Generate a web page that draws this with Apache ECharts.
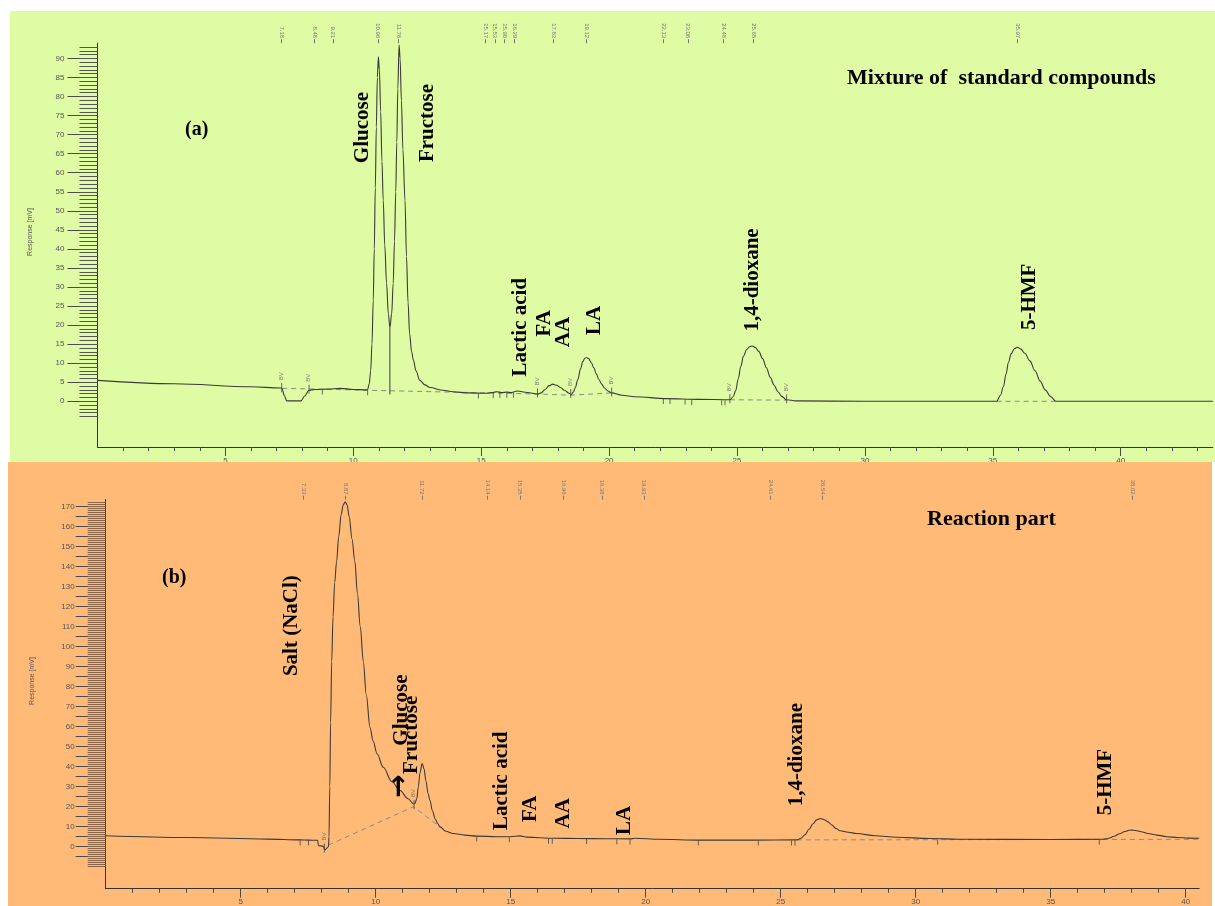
<!DOCTYPE html>
<html><head><meta charset="utf-8">
<script src="https://cdn.jsdelivr.net/npm/echarts@6/dist/echarts.min.js"></script>
<style>html,body{margin:0;padding:0;background:#fff}#c{width:1215px;height:906px}</style>
</head><body><div id="c"></div>
<script>
// ---------- Panel (a): mixture of standard compounds ----------
const timeA = [0,3,6,7.15,7.22,7.3,7.4,7.95,8.1,8.27,8.5,9.0,9.5,10.0,10.5,
  10.56,10.62,10.68,10.73,10.78,10.82,10.86,10.9,10.94,10.98,11.02,11.07,11.12,11.17,11.23,11.3,11.37,11.43,
  11.5,11.56,11.61,11.66,11.7,11.74,11.79,11.83,11.88,11.94,12.02,12.08,12.14,12.2,12.28,12.35,12.45,12.6,12.8,13.0,13.5,13.9,14.5,
  15.2,15.45,15.6,15.8,16.0,16.2,16.4,16.8,
  17.2,17.35,17.5,17.65,17.8,17.95,18.1,18.25,18.44,
  18.52,18.6,18.68,18.78,18.88,18.97,19.05,19.12,19.2,19.3,19.4,19.5,19.6,19.71,19.82,19.95,20.1,20.5,21.0,22.25,23.5,
  24.72,24.85,24.95,25.05,25.15,25.25,25.38,25.5,25.6,25.72,25.85,26.0,26.15,26.3,26.45,26.6,26.75,26.94,27.3,30,
  35.15,35.3,35.41,35.52,35.61,35.72,35.84,35.96,36.1,36.25,36.45,36.65,36.85,37.05,37.25,37.47,43.6];
const respA = [5.5,4.6,3.8,3.5,3.3,1.5,0.1,0.1,1.4,2.9,3.1,3.2,3.4,3.1,3.0,
  3.1,4.5,8,15,26.6,40,56,72,85,90.4,87,76,63,52.8,41,31,23,19.3,
  23,31,42,55,68,82,93.5,90,79,66,52.8,38,26,17.8,13,10.8,8,5.5,4.3,3.6,2.9,2.5,2.2,
  2.1,2.3,2.5,2.3,2.4,2.3,2.7,2.3,
  1.9,2.2,3.1,4.1,4.5,4.2,3.6,2.9,2.1,
  1.8,2.4,3.6,5.8,8.5,10.4,11.3,11.5,11.2,10.2,8.8,7.2,5.7,4.5,3.5,2.7,2.2,1.6,1.2,0.7,0.5,
  0.4,1.2,2.8,6,9.2,11.8,13.6,14.4,14.5,14.1,13.1,11.2,8.8,6.3,4.2,2.5,1.3,0.4,0.1,0,
  0,1.6,3.8,7.2,10.2,12.5,13.8,14.2,13.7,12.6,10.6,8.0,5.3,3.0,1.3,0,0];
const baseTimeA = [7.22,17.2,18.5,20.1,null,24.72,26.94,null,35.15,37.47];
const baseRespA = [3.4,1.9,1.6,2.2,null,0.4,0.3,null,0,0];
const dropTimeA = [11.43,11.43];
const dropRespA = [19.3,1.8];
const eventTimeA = [8.79,10.56,14.89,15.47,15.73,16.0,16.26,22.12,22.38,22.97,23.23,24.4,24.53];
const eventRespA = [3.2,3.0,2.2,2.3,2.4,2.4,2.4,0.7,0.7,0.6,0.5,0.4,0.4];
const markTimeA = [7.2,8.27,17.2,18.5,20.1,24.72,26.94];
const markRespA = [3.3,2.9,1.9,1.8,2.2,0.4,0.4];
const rtA = [7.18,8.48,9.21,10.96,11.76,15.17,15.53,15.90,16.29,17.83,19.12,22.13,23.08,24.48,25.65,35.97];
const compoundsA = ['Glucose','Fructose','Lactic acid','FA','AA','LA','1,4-dioxane','5-HMF'];
const yTicksA = [0,5,10,15,20,25,30,35,40,45,50,55,60,65,70,75,80,85,90];

// ---------- Panel (b): reaction part ----------
const timeB = [0,3,6,7.2,7.5,7.85,7.88,8.05,8.12,8.25,
  8.27,8.3,8.33,8.37,8.42,8.48,8.55,8.63,8.72,8.8,8.87,8.94,9.02,9.12,9.23,9.32,9.43,9.54,9.65,9.79,9.9,10.05,10.28,10.6,10.9,11.2,11.4,
  11.45,11.52,11.58,11.64,11.72,11.79,11.86,11.94,12.01,12.1,12.2,12.3,12.38,12.6,12.87,13.3,13.74,14.5,15.0,15.34,15.6,16.58,17.5,18.5,19.42,19.6,20.5,22.0,24.0,
  25.6,25.75,25.9,26.05,26.2,26.33,26.46,26.6,26.75,26.9,27.05,27.2,27.5,27.81,28.5,29.3,30.5,31.77,35,
  36.95,37.15,37.35,37.55,37.75,37.9,38.0,38.15,38.35,38.6,38.93,39.3,39.7,40.1,40.5];
const respB = [5.5,4.6,3.8,3.4,3.3,3.2,0.5,0.3,-1.6,0,
  5,30,62,92.7,115,132,142.4,155,166,171,172.5,171,165,154,142.4,127,110,92.7,76,59.6,53,46.5,39.7,32.5,28.1,24,21.5,
  21.5,24,30,37,41.6,39,33,26.5,23.2,18,14,11.5,9.9,7.7,6.6,5.8,5.3,5.0,5.0,5.4,4.8,4.2,4.1,4.0,3.9,4.2,3.7,3.3,3.3,
  3.4,4.2,6,8.7,11.5,13.4,14.1,13.6,12.4,10.8,9.1,8.0,7.2,6.6,5.5,4.7,4.1,3.7,3.6,
  3.7,4.2,5.2,6.5,7.6,8.2,8.3,8.1,7.5,6.6,5.8,5.0,4.6,4.3,4.2];
const baseTimeB = [8.25,11.4,12.38,null,25.6,40.53];
const baseRespB = [0.8,20,9.9,null,3.4,3.7];
const eventTimeB = [7.2,7.51,13.74,14.95,16.4,16.54,17.81,18.93,19.42,21.95,24.17,25.4,25.53,30.81,36.8,40.53];
const eventRespB = [3.4,3.3,5.3,5.0,4.2,4.2,4.1,4.0,3.9,3.3,3.3,3.4,3.4,3.9,3.7,4.2];
const markTimeB = [8.1,11.42];
const markRespB = [-1.2,20.5];
const rtB = [7.33,8.87,11.72,14.14,15.35,16.96,18.38,19.93,24.61,26.54,38.02];
const compoundsB = ['Salt (NaCl)','Glucose','→','Fructose','Lactic acid','FA','AA','LA','1,4-dioxane','5-HMF'];
const yTicksB = [-5,0,5,10,15,20,25,30,35,40,45,50,55,60,65,70,75,80,85,90,95,100,105,110,115,120,125,130,135,140,145,150,155,160,165,170];
const yLabelsB = [0,10,20,30,40,50,60,70,80,90,100,110,120,130,140,150,160,170];

const xTicks = [5,10,15,20,25,30,35,40];
const markerText = 'BV';

// ---------- layout (label anchors in data units, not data) ----------
const anchorA = [[10.36,62.5],[12.92,62.8],[16.54,6.5],[17.46,17.0],[18.22,14.2],[19.43,17.4],[25.61,18.3],[36.45,18.7]];
const anchorB = [[6.89,85.3],[10.94,50.5],[10.9,24.5],[11.33,36.4],[14.67,8.3],[15.74,12.4],[16.97,9.1],[19.2,5.8],[25.57,20.2],[37.04,15.7]];

function zip(a,b){return a.map((v,i)=> v===null ? [null,null] : [v,b[i]]);}
function intRange(a,b){const r=[];for(let i=a;i<=b;i++)r.push(i);return r;}

const tickCol = '#4a4a4a', lineCol = '#333', labCol = '#555';
const serif = '"Liberation Serif","Times New Roman",serif';
const sans = '"Liberation Sans",Arial,sans-serif';

function xAxesFor(grid, max, rt, labelMargin, z){
  return [
    {gridIndex:grid, type:'value', position:'bottom', min:0, max:max, z:z,
     axisLine:{show:true, onZero:false, lineStyle:{color:lineCol,width:1}},
     axisTick:{show:true, customValues:xTicks, length:9, lineStyle:{color:tickCol}},
     axisLabel:{show:true, customValues:xTicks, margin:labelMargin, fontSize:8, color:labCol, fontFamily:sans},
     splitLine:{show:false}},
    {gridIndex:grid, type:'value', position:'bottom', min:0, max:max, z:z,
     axisLine:{show:false, onZero:false},
     axisTick:{show:true, customValues:intRange(1,Math.floor(max)).filter(v=>v%5!==0), length:4, lineStyle:{color:tickCol}},
     axisLabel:{show:false}, splitLine:{show:false}},
    {gridIndex:grid, type:'value', position:'top', min:0, max:max, z:z,
     axisLine:{show:false, onZero:false},
     axisTick:{show:true, customValues:rt, length:4, lineStyle:{color:'#777'}},
     axisLabel:{show:true, customValues:rt, rotate:90, margin:5, fontSize:6, color:'#777', fontFamily:sans,
       formatter:v=>v.toFixed(2)},
     splitLine:{show:false}}
  ];
}
function yAxesFor(grid, min, max, majors, labels, minors, margin, z, minorCol){
  return [
    {gridIndex:grid, type:'value', position:'left', min:min, max:max, z:z,
     axisLine:{show:true, onZero:false, lineStyle:{color:lineCol,width:1}},
     axisTick:{show:true, customValues:majors, length:30, lineStyle:{color:tickCol}},
     axisLabel:{show:true, customValues:labels, margin:margin, fontSize:8, color:labCol, fontFamily:sans},
     splitLine:{show:false}},
    {gridIndex:grid, type:'value', position:'left', min:min, max:max, z:z,
     axisLine:{show:false, onZero:false},
     axisTick:{show:true, customValues:minors, length:18, lineStyle:{color:minorCol, width:1}},
     axisLabel:{show:false}, splitLine:{show:false}}
  ];
}

function seriesFor(xi, yi, t, r, bt, br, et, er, mt, mr, names, anchors, extra){
  const s = [
    {type:'line', xAxisIndex:xi, yAxisIndex:yi, data:zip(t,r), symbol:'none', smooth:0.35, smoothMonotone:'x',
     lineStyle:{color:'#3a3a3a', width:1.1}, silent:true, z:4},
    {type:'line', xAxisIndex:xi, yAxisIndex:yi, data:zip(bt,br), symbol:'none', connectNulls:false,
     lineStyle:{color:'#8a8a8a', width:1, type:[5,4]}, silent:true, z:3},
    {type:'scatter', xAxisIndex:xi, yAxisIndex:yi, data:zip(et,er), symbol:'rect', symbolSize:[1,5], symbolOffset:[0,3],
     itemStyle:{color:'#444'}, silent:true, z:4},
    {type:'scatter', xAxisIndex:xi, yAxisIndex:yi, data:zip(mt,mr), symbol:'rect', symbolSize:[1,9], symbolOffset:[0,-1],
     itemStyle:{color:'#444'}, silent:true, z:4,
     label:{show:true, formatter:markerText, position:[0,-3], rotate:90, align:'left', verticalAlign:'middle',
       fontSize:6, color:'#666', fontFamily:sans}},
    {type:'scatter', xAxisIndex:xi, yAxisIndex:yi, clip:false, symbol:'circle', symbolSize:1,
     itemStyle:{color:'rgba(0,0,0,0)'}, silent:true, z:6,
     data: names.map((n,i)=>{
       const d = {name:n, value:anchors[i]};
       if (n === '→') d.label = {fontFamily:'"DejaVu Sans",sans-serif', fontSize:28};
       return d;
     }),
     labelLayout:{hideOverlap:false},
     label:{show:true, formatter:'{b}', position:'inside', rotate:90, align:'left', verticalAlign:'middle',
       fontSize:21, fontWeight:'bold', color:'#000', opacity:1, textBorderWidth:0, textShadowBlur:0, fontFamily:serif}}
  ];
  return s.concat(extra||[]);
}

const option = {
  backgroundColor:'#ffffff',
  animation:false,
  grid:[
    {left:97.5, top:43.2, width:1115.3, height:403.8, outerBoundsMode:'none', containLabel:false, z:0},
    {left:105.7, top:499.7, width:1093.5, height:389, outerBoundsMode:'none', containLabel:false, z:3}
  ],
  xAxis: xAxesFor(0, 43.6, rtA, 10, 0).concat(xAxesFor(1, 40.5, rtB, 9, 3)),
  yAxis: yAxesFor(0, -12, 94, yTicksA, yTicksA, intRange(-4,93), 33, 0, '#555')
        .concat(yAxesFor(1, -21, 173.5, yTicksB, yLabelsB, intRange(-10,172), 31, 3, '#8a6444')),
  series: seriesFor(0, 0, timeA, respA, baseTimeA, baseRespA, eventTimeA, eventRespA, markTimeA, markRespA, compoundsA, anchorA,
            [{type:'line', xAxisIndex:0, yAxisIndex:0, data:zip(dropTimeA,dropRespA), symbol:'none',
              lineStyle:{color:'#3a3a3a', width:1}, silent:true, z:4}])
          .concat(seriesFor(3, 2, timeB, respB, baseTimeB, baseRespB, eventTimeB, eventRespB, markTimeB, markRespB, compoundsB, anchorB)),
  graphic:[
    {type:'rect', shape:{x:10, y:11, width:1205, height:451}, style:{fill:'#dffba4'}, z:-10, silent:true},
    {type:'rect', shape:{x:8, y:462, width:1204, height:444}, style:{fill:'#ffba78'}, z:1, silent:true},
    {type:'text', x:185, y:130, z:10, style:{text:'(a)', font:'bold 20px '+serif, fill:'#000', verticalAlign:'middle'}},
    {type:'text', x:847, y:78, z:10, style:{text:'Mixture of  standard compounds', font:'bold 22px '+serif, fill:'#000', verticalAlign:'middle'}},
    {type:'text', x:162, y:578, z:10, style:{text:'(b)', font:'bold 20px '+serif, fill:'#000', verticalAlign:'middle'}},
    {type:'text', x:927, y:519, z:10, style:{text:'Reaction part', font:'bold 22px '+serif, fill:'#000', verticalAlign:'middle'}},
    {type:'text', x:30, y:232, rotation:Math.PI/2, z:10, style:{text:'Response [mV]', font:'7px '+sans, fill:'#555', align:'center', verticalAlign:'middle'}},
    {type:'text', x:32, y:681, rotation:Math.PI/2, z:10, style:{text:'Response [mV]', font:'7px '+sans, fill:'#555', align:'center', verticalAlign:'middle'}}
  ]
};
const chart = echarts.init(document.getElementById('c'), null, {renderer:'canvas'});
chart.setOption(option);
</script></body></html>
